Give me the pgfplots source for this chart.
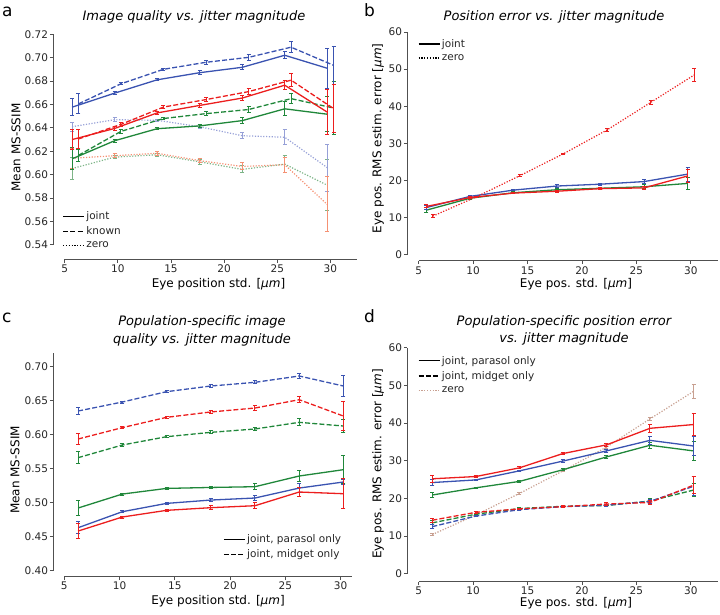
\documentclass[border=0pt]{standalone}
\usepackage{pgfplots}
\pgfplotsset{compat=1.18}
\usepackage{fontspec}
\setmainfont{DejaVu Sans}
\definecolor{cblue}{RGB}{58,83,177}
\definecolor{cred}{RGB}{236,30,30}
\definecolor{cgreen}{RGB}{32,135,58}
\definecolor{zblue}{RGB}{150,160,215}
\definecolor{zred}{RGB}{245,145,115}
\definecolor{zgreen}{RGB}{125,180,135}
\definecolor{ztan}{RGB}{200,160,145}
\definecolor{spinec}{RGB}{80,80,80}
\tikzset{spine/.style={line width=0.9pt, color=spinec}}
\pgfplotsset{
  panel/.style={
    scale only axis, anchor=south west,
    axis lines*=left,
    axis line style={draw=none},
    axis x line shift=6pt, axis y line shift=6pt,
    tick align=outside, major tick length=3.5pt,
    tick style={line width=0.8pt, color=spinec},
    xtick={5,10,...,30},
    ticklabel style={font=\fontsize{10.5}{12}\selectfont, color=black!85},
    xticklabel style={inner sep=2pt},
    yticklabel style={inner sep=1.5pt},
    /pgf/number format/assume math mode=true,
    scaled y ticks=false,
    clip=false,
    legend style={draw=none, fill=none, font=\fontsize{10.5}{12}\selectfont, text=black!85,
      nodes={inner sep=1.6pt}, row sep=2.5pt},
    legend cell align=left,
    legend image code/.code={\draw[##1] (0pt,0pt) -- (21pt,0pt);},
  },
  eb/.style={error bars/y dir=both, error bars/y explicit,
    error bars/error bar style={line width=1pt, solid},
    error bars/error mark options={rotate=90, mark size=2pt, line width=1pt, solid}},
  jl/.style={line width=1.3pt, solid, mark=none},
  kn/.style={line width=1.3pt, dash pattern=on 5pt off 2.2pt, mark=none},
  zr/.style={line width=1.2pt, dash pattern=on 1.2pt off 1.6pt, mark=none},
}
\begin{document}
\begin{tikzpicture}
\useasboundingbox (0pt,0pt) rectangle (720pt,-615pt);
% ---------------- panel a ----------------
\begin{axis}[panel, at={(59.3pt,-253pt)}, width=297.7pt, height=221pt,
  xmin=4.5, xmax=32.5, ymin=0.533, ymax=0.722,
  ytick={0.54,0.56,...,0.721},
  yticklabel style={/pgf/number format/.cd, fixed, fixed zerofill, precision=2},
  legend style={at={(0.0,0.0)}, anchor=south west}]
\addlegendimage{black, jl}\addlegendentry{joint}
\addlegendimage{black, kn}\addlegendentry{known}
\addlegendimage{black, zr}\addlegendentry{zero}
% zero
\addplot[zgreen, zr, forget plot, eb] coordinates {(5.7,0.6052)+-(0,0.0095) (9.7,0.6150)+-(0,0.0015) (13.7,0.6170)+-(0,0.0012) (17.7,0.6110)+-(0,0.002) (21.7,0.6045)+-(0,0.003) (25.7,0.6090)+-(0,0.007) (29.7,0.5910)+-(0,0.022)};
\addplot[zblue, zr, forget plot, eb] coordinates {(5.7,0.6410)+-(0,0.004) (9.7,0.6470)+-(0,0.0015) (13.7,0.6465)+-(0,0.001) (17.7,0.6410)+-(0,0.0015) (21.7,0.6333)+-(0,0.0025) (25.7,0.6320)+-(0,0.0065) (29.7,0.6060)+-(0,0.020)};
\addplot[zred, zr, forget plot, eb] coordinates {(5.7,0.6140)+-(0,0.0085) (9.7,0.6162)+-(0,0.0015) (13.7,0.6183)+-(0,0.0015) (17.7,0.6120)+-(0,0.002) (21.7,0.6070)+-(0,0.003) (25.7,0.6085)+-(0,0.0065) (29.7,0.5745)+-(0,0.0235)};
% green
\addplot[cgreen, kn, forget plot, eb] coordinates {(6.3,0.6165)+-(0,0.005) (10.3,0.6370)+-(0,0.0015) (14.3,0.6480)+-(0,0.0012) (18.3,0.6522)+-(0,0.0015) (22.3,0.6557)+-(0,0.0025) (26.3,0.6650)+-(0,0.0045) (30.3,0.6570)+-(0,0.0225)};
\addplot[cgreen, jl, forget plot, eb] coordinates {(5.7,0.6135)+-(0,0.0095) (9.7,0.6290)+-(0,0.0012) (13.7,0.6393)+-(0,0.001) (17.7,0.6417)+-(0,0.0015) (21.7,0.6462)+-(0,0.0025) (25.7,0.6563)+-(0,0.006) (29.7,0.6517)+-(0,0.015)};
% blue
\addplot[cblue, kn, forget plot, eb] coordinates {(6.3,0.6605)+-(0,0.0085) (10.3,0.6777)+-(0,0.001) (14.3,0.6901)+-(0,0.001) (18.3,0.6961)+-(0,0.0015) (22.3,0.7003)+-(0,0.0025) (26.3,0.7090)+-(0,0.0045) (30.3,0.6935)+-(0,0.0165)};
\addplot[cblue, jl, forget plot, eb] coordinates {(5.7,0.6577)+-(0,0.0075) (9.7,0.6697)+-(0,0.001) (13.7,0.6811)+-(0,0.001) (17.7,0.6872)+-(0,0.0015) (21.7,0.6918)+-(0,0.002) (25.7,0.7021)+-(0,0.003) (29.7,0.6910)+-(0,0.017)};
% red
\addplot[cred, kn, forget plot, eb] coordinates {(6.3,0.6305)+-(0,0.0085) (10.3,0.6430)+-(0,0.0015) (14.3,0.6578)+-(0,0.0012) (18.3,0.6642)+-(0,0.0015) (22.3,0.6710)+-(0,0.0025) (26.3,0.6808)+-(0,0.0055) (30.3,0.6565)+-(0,0.0205)};
\addplot[cred, jl, forget plot, eb] coordinates {(5.7,0.6300)+-(0,0.0085) (9.7,0.6395)+-(0,0.0015) (13.7,0.6528)+-(0,0.0015) (17.7,0.6592)+-(0,0.002) (21.7,0.6655)+-(0,0.0025) (25.7,0.6765)+-(0,0.004) (29.7,0.6535)+-(0,0.0195)};
\draw[spine] ([xshift=-6pt]axis cs:4.5,0.54) -- ([xshift=-6pt]axis cs:4.5,0.72);
\draw[spine] ([yshift=-6pt]axis cs:5,0.533) -- ([yshift=-6pt]axis cs:32.5,0.533);
\end{axis}
% ---------------- panel b ----------------
\begin{axis}[panel, at={(413.3pt,-254.7pt)}, width=304.7pt, height=222.7pt,
  xmin=4.5, xmax=32.5, ymin=0, ymax=60, ytick={0,10,...,60},
  legend style={at={(0.005,0.985)}, anchor=north west}]
\addlegendimage{black, jl}\addlegendentry{joint}
\addlegendimage{black, zr}\addlegendentry{zero}
\addplot[cgreen, jl, forget plot, eb] coordinates {(5.7,12.0)+-(0,0.6) (9.7,15.2)+-(0,0.3) (13.7,16.7)+-(0,0.2) (17.7,17.5)+-(0,0.3) (21.7,17.9)+-(0,0.3) (25.7,18.3)+-(0,0.5) (29.7,19.2)+-(0,1.6)};
\addplot[cblue, jl, forget plot, eb] coordinates {(5.7,12.7)+-(0,0.5) (9.7,15.7)+-(0,0.3) (13.7,17.4)+-(0,0.2) (17.7,18.5)+-(0,0.3) (21.7,19.0)+-(0,0.3) (25.7,19.7)+-(0,0.6) (29.7,21.7)+-(0,1.9)};
\addplot[cred, jl, forget plot, eb] coordinates {(5.7,13.0)+-(0,0.4) (9.7,15.4)+-(0,0.3) (13.7,16.6)+-(0,0.2) (17.7,17.1)+-(0,0.3) (21.7,17.8)+-(0,0.3) (25.7,18.0)+-(0,0.5) (29.7,21.2)+-(0,1.8)};
\addplot[cred, zr, forget plot, eb] coordinates {(6.3,10.4)+-(0,0.3) (10.3,15.6)+-(0,0.2) (14.3,21.3)+-(0,0.2) (18.3,27.2)+-(0,0.2) (22.3,33.6)+-(0,0.3) (26.3,41.0)+-(0,0.5) (30.3,48.4)+-(0,1.8)};
\draw[spine] ([xshift=-6pt]axis cs:4.5,0) -- ([xshift=-6pt]axis cs:4.5,60);
\draw[spine] ([yshift=-6pt]axis cs:5,0) -- ([yshift=-6pt]axis cs:32.5,0);
\end{axis}
% ---------------- panel c ----------------
\begin{axis}[panel, at={(59.3pt,-570.7pt)}, width=292.4pt, height=218pt,
  xmin=4.55, xmax=31.0, ymin=0.40, ymax=0.72,
  ytick={0.40,0.45,...,0.701},
  xticklabel style={inner sep=1.5pt},
  yticklabel style={/pgf/number format/.cd, fixed, fixed zerofill, precision=2},
  legend style={at={(0.55,0.035)}, anchor=south west}]
\addlegendimage{black, jl}\addlegendentry{joint, parasol only}
\addlegendimage{black, kn}\addlegendentry{joint, midget only}
\addplot[cgreen, kn, forget plot, eb] coordinates {(6.25,0.5659)+-(0,0.009) (10.25,0.5845)+-(0,0.0015) (14.25,0.5967)+-(0,0.0015) (18.25,0.6031)+-(0,0.002) (22.25,0.6080)+-(0,0.0025) (26.25,0.6178)+-(0,0.005) (30.25,0.6124)+-(0,0.009)};
\addplot[cblue, kn, forget plot, eb] coordinates {(6.25,0.6344)+-(0,0.0045) (10.25,0.6476)+-(0,0.0015) (14.25,0.6628)+-(0,0.0012) (18.25,0.6711)+-(0,0.0015) (22.25,0.6765)+-(0,0.002) (26.25,0.6858)+-(0,0.003) (30.25,0.6711)+-(0,0.016)};
\addplot[cred, kn, forget plot, eb] coordinates {(6.25,0.5933)+-(0,0.0085) (10.25,0.6100)+-(0,0.0015) (14.25,0.6251)+-(0,0.0012) (18.25,0.6330)+-(0,0.002) (22.25,0.6388)+-(0,0.003) (26.25,0.6510)+-(0,0.0045) (30.25,0.6270)+-(0,0.021)};
\addplot[cgreen, jl, forget plot, eb] coordinates {(6.25,0.4920)+-(0,0.011) (10.25,0.5125)+-(0,0.0015) (14.25,0.5208)+-(0,0.0015) (18.25,0.5222)+-(0,0.002) (22.25,0.5233)+-(0,0.004) (26.25,0.5390)+-(0,0.008) (30.25,0.5483)+-(0,0.021)};
\addplot[cblue, jl, forget plot, eb] coordinates {(6.25,0.4631)+-(0,0.009) (10.25,0.4866)+-(0,0.0015) (14.25,0.4988)+-(0,0.0015) (18.25,0.5037)+-(0,0.002) (22.25,0.5067)+-(0,0.0035) (26.25,0.5213)+-(0,0.007) (30.25,0.5302)+-(0,0.004)};
\addplot[cred, jl, forget plot, eb] coordinates {(6.25,0.4582)+-(0,0.011) (10.25,0.4788)+-(0,0.0015) (14.25,0.4886)+-(0,0.0015) (18.25,0.4925)+-(0,0.0025) (22.25,0.4954)+-(0,0.004) (26.25,0.5155)+-(0,0.007) (30.25,0.5130)+-(0,0.022)};
\draw[spine] ([xshift=-6pt]axis cs:4.55,0.40) -- ([xshift=-6pt]axis cs:4.55,0.72);
\draw[spine] ([yshift=-6pt]axis cs:5,0.40) -- ([yshift=-6pt]axis cs:31.0,0.40);
\end{axis}
% ---------------- panel d ----------------
\begin{axis}[panel, at={(413.3pt,-575.7pt)}, width=304.7pt, height=228pt,
  xmin=4.5, xmax=32.5, ymin=-0.53, ymax=60, ytick={0,10,...,60},
  xticklabel style={inner sep=1pt},
  legend style={at={(0.005,0.98)}, anchor=north west}]
\addlegendimage{black, jl}\addlegendentry{joint, parasol only}
\addlegendimage{black, kn}\addlegendentry{joint, midget only}
\addlegendimage{ztan, zr}\addlegendentry{zero}
\addplot[ztan, zr, forget plot, eb] coordinates {(6.25,10.4)+-(0,0.3) (10.25,15.6)+-(0,0.2) (14.25,21.3)+-(0,0.2) (18.25,27.3)+-(0,0.2) (22.25,33.6)+-(0,0.3) (26.25,41.1)+-(0,0.5) (30.25,48.4)+-(0,1.8)};
\addplot[cgreen, jl, forget plot, eb] coordinates {(6.25,20.9)+-(0,0.7) (10.25,22.8)+-(0,0.2) (14.25,24.5)+-(0,0.2) (18.25,27.6)+-(0,0.3) (22.25,31.0)+-(0,0.4) (26.25,34.1)+-(0,0.8) (30.25,32.6)+-(0,2.5)};
\addplot[cblue, jl, forget plot, eb] coordinates {(6.25,24.2)+-(0,0.8) (10.25,24.9)+-(0,0.2) (14.25,27.3)+-(0,0.2) (18.25,29.9)+-(0,0.3) (22.25,32.6)+-(0,0.4) (26.25,35.4)+-(0,1.0) (30.25,33.9)+-(0,2.5)};
\addplot[cred, jl, forget plot, eb] coordinates {(6.25,25.2)+-(0,1.0) (10.25,25.8)+-(0,0.2) (14.25,28.1)+-(0,0.3) (18.25,31.9)+-(0,0.3) (22.25,34.2)+-(0,0.5) (26.25,38.6)+-(0,1.0) (30.25,39.6)+-(0,3.0)};
\addplot[cgreen, kn, forget plot, eb] coordinates {(6.25,13.5)+-(0,0.5) (10.25,15.8)+-(0,0.2) (14.25,17.3)+-(0,0.2) (18.25,17.9)+-(0,0.2) (22.25,18.1)+-(0,0.3) (26.25,19.3)+-(0,0.6) (30.25,22.2)+-(0,1.8)};
\addplot[cblue, kn, forget plot, eb] coordinates {(6.25,12.5)+-(0,0.6) (10.25,15.3)+-(0,0.2) (14.25,17.0)+-(0,0.2) (18.25,17.8)+-(0,0.2) (22.25,18.2)+-(0,0.3) (26.25,19.2)+-(0,0.5) (30.25,23.2)+-(0,2.5)};
\addplot[cred, kn, forget plot, eb] coordinates {(6.25,14.2)+-(0,0.5) (10.25,16.3)+-(0,0.2) (14.25,17.2)+-(0,0.2) (18.25,17.8)+-(0,0.2) (22.25,18.5)+-(0,0.3) (26.25,18.9)+-(0,0.5) (30.25,23.5)+-(0,2.3)};
\draw[spine] ([xshift=-6pt]axis cs:4.5,0) -- ([xshift=-6pt]axis cs:4.5,60);
\draw[spine] ([yshift=-6pt]axis cs:5,-0.53) -- ([yshift=-6pt]axis cs:32.5,-0.53);
\end{axis}
% ---------------- titles, labels, letters ----------------
\def\tfont{\fontsize{13}{15}\selectfont\itshape}
\def\lfont{\fontsize{12}{14}\selectfont}
\def\pfont{\fontsize{17}{19}\selectfont}
\node[font=\pfont, anchor=base west, inner sep=0pt] at (2pt,-17pt) {a};
\node[font=\pfont, anchor=base west, inner sep=0pt] at (364pt,-17pt) {b};
\node[font=\pfont, anchor=base west, inner sep=0pt] at (2pt,-322pt) {c};
\node[font=\pfont, anchor=base west, inner sep=0pt] at (364pt,-322pt) {d};
\node[font=\tfont, anchor=base, inner sep=0pt] at (194pt,-20.5pt) {Image quality vs. jitter magnitude};
\node[font=\tfont, anchor=base, inner sep=0pt] at (554pt,-20.5pt) {Position error vs. jitter magnitude};
\node[font=\tfont, anchor=base, inner sep=0pt] at (202pt,-325.7pt) {Population-specific image};
\node[font=\tfont, anchor=base, inner sep=0pt] at (202pt,-343.3pt) {quality vs. jitter magnitude};
\node[font=\tfont, anchor=base, inner sep=0pt] at (564pt,-325pt) {Population-specific position error};
\node[font=\tfont, anchor=base, inner sep=0pt] at (564pt,-342.7pt) {vs. jitter magnitude};
\node[font=\lfont, anchor=base, inner sep=0pt] at (218.5pt,-287pt) {Eye position std. [{\itshape μm}]};
\node[font=\lfont, anchor=base, inner sep=0pt] at (576pt,-287.5pt) {Eye pos. std. [{\itshape μm}]};
\node[font=\lfont, anchor=base, inner sep=0pt] at (218pt,-604pt) {Eye position std. [{\itshape μm}]};
\node[font=\lfont, anchor=base, inner sep=0pt] at (576pt,-606pt) {Eye pos. std. [{\itshape μm}]};
\node[font=\lfont, rotate=90, inner sep=0pt] at (16pt,-147.5pt) {Mean MS-SSIM};
\node[font=\lfont, rotate=90, inner sep=0pt] at (378pt,-138.5pt) {Eye pos. RMS estim. error [{\itshape μm}]};
\node[font=\lfont, rotate=90, inner sep=0pt] at (15pt,-470pt) {Mean MS-SSIM};
\node[font=\lfont, rotate=90, inner sep=0pt] at (378pt,-464pt) {Eye pos. RMS estim. error [{\itshape μm}]};
\end{tikzpicture}
\end{document}
